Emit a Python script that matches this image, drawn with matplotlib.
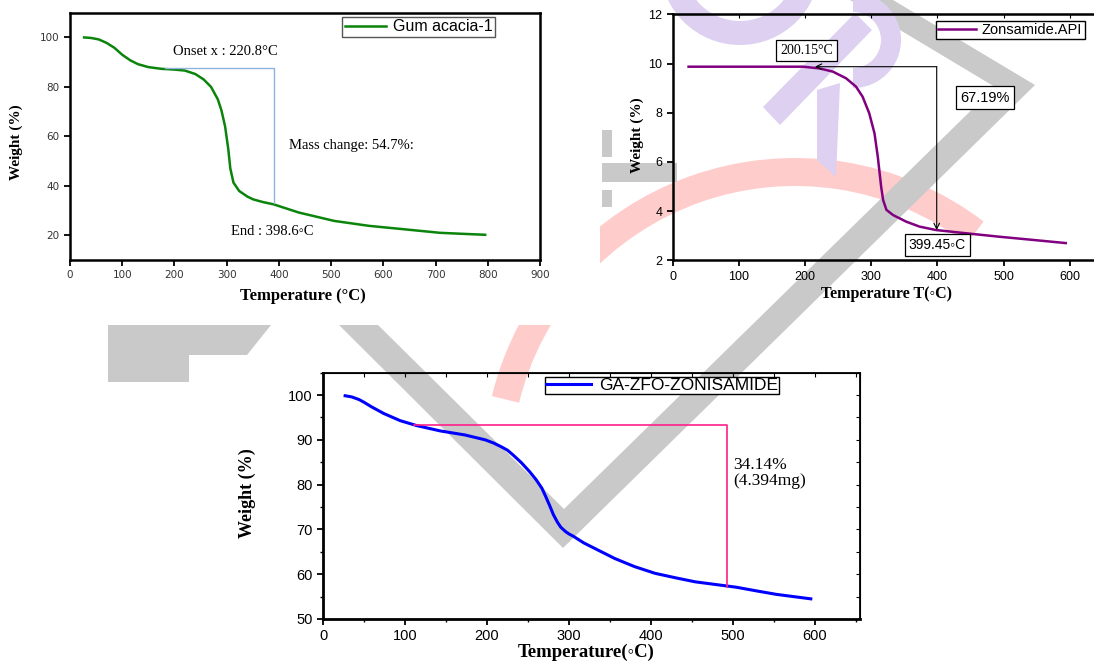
import matplotlib
matplotlib.use("Agg")
import matplotlib.pyplot as plt
from matplotlib.patches import Polygon, Wedge, Rectangle
from matplotlib.ticker import MultipleLocator

SERIF = ["Liberation Serif", "DejaVu Serif"]
SANS = ["Liberation Sans", "DejaVu Sans"]

# ---- Gum acacia-1 ----
ga_temp = [27, 40, 55, 70, 85, 100, 115, 130, 150, 175, 200, 220, 240, 256, 270, 283,
           290, 297, 303, 307, 313, 324, 340, 351, 370, 390, 438, 506, 573, 641, 708, 750, 795]
ga_wt = [100, 99.8, 99.2, 97.8, 95.8, 93, 90.8, 89.2, 88, 87.3, 87, 86.6, 85.2, 83, 80, 75,
         70.5, 64, 55, 47, 41.3, 37.9, 35.6, 34.5, 33.4, 32.5, 29.2, 25.8, 23.8, 22.4, 21, 20.6, 20.2]
ga_label = "Gum acacia-1"
ga_step_x = [182, 390, 390]
ga_step_y = [87.5, 87.5, 33.0]

# ---- Zonisamide API ----
api_temp = [24, 100, 197, 222, 242, 262, 277, 287, 297, 305, 310, 315, 318, 323, 333,
            353, 373, 398, 443, 493, 544, 594]
api_wt = [9.87, 9.87, 9.87, 9.8, 9.67, 9.4, 9.06, 8.65, 7.98, 7.16, 6.2, 5.0, 4.45, 4.05, 3.84,
          3.57, 3.37, 3.23, 3.1, 2.96, 2.83, 2.7]
api_label = "Zonsamide.API"
api_onset = (215, 9.87)
api_corner = (399, 9.87)
api_end = (399, 3.23)

# ---- GA-ZFO-Zonisamide ----
zfo_temp = [27, 35, 44, 50, 59, 74, 94, 114, 143, 173, 198, 208, 217, 225, 232, 242, 252, 260,
            267, 272, 277, 281, 286, 290, 296, 300, 306, 318, 331, 356, 380, 405, 430, 454,
            479, 504, 528, 553, 595]
zfo_wt = [99.85, 99.6, 99.0, 98.4, 97.4, 95.9, 94.3, 93.2, 92.0, 91.1, 90.0, 89.3, 88.5, 87.7,
          86.6, 84.9, 82.9, 81.1, 79.2, 77.2, 75.1, 73.3, 71.6, 70.5, 69.5, 69.0, 68.4, 67.0,
          65.8, 63.5, 61.7, 60.2, 59.2, 58.3, 57.7, 57.1, 56.3, 55.5, 54.5]
zfo_label = "GA-ZFO-ZONISAMIDE"
zfo_step_x = [111, 493, 493]
zfo_step_y = [93.3, 93.3, 57.2]

W, H = 1094, 661
fig = plt.figure(figsize=(W / 100, H / 100), dpi=100)

# background watermark (pixel coordinates, drawn behind everything)
wm = fig.add_axes([0, 0, 1, 1], zorder=-1)
wm.set_xlim(0, W)
wm.set_ylim(H, 0)
wm.axis("off")
gray = "#c9c9c9"
wm.add_patch(Wedge((795, 470), 312, 193.7, 307.2, width=28, color="#ffcccc", lw=0))
wm.add_patch(Polygon([(339, 325), (563, 548), (1035, 85), (893, 0), (850, 0), (995, 87),
                      (564, 509), (378, 325)], closed=True, color=gray, lw=0))
wm.add_patch(Polygon([(108, 325), (271, 325), (247, 355), (189, 355), (189, 382), (108, 382)],
                     closed=True, color=gray, lw=0))
wm.add_patch(Rectangle((602, 163), 75, 19, color=gray, lw=0))
wm.add_patch(Rectangle((602, 130), 10, 27, color=gray, lw=0))
wm.add_patch(Rectangle((602, 190), 10, 17, color=gray, lw=0))
lav = "#ddd0f0"
wm.add_patch(Wedge((740, -35), 80, 0, 180, width=24, color=lav, lw=0))
wm.add_patch(Polygon([(763, 107), (780, 125), (872, 30), (855, 13)], closed=True, color=lav, lw=0))
wm.add_patch(Polygon([(817, 90), (840, 83), (836, 177), (817, 160)], closed=True, color=lav, lw=0))
wm.add_patch(Wedge((853, 40), 48, -90, 90, width=20, color=lav, lw=0))
wm.add_patch(Rectangle((0, 0), 600, 325, color="white", lw=0))


def style_labels(ax, family, size, color="black"):
    for lab in ax.get_xticklabels() + ax.get_yticklabels():
        lab.set_fontfamily(family)
        lab.set_fontsize(size)
        lab.set_color(color)


# ---------------- panel 1 ----------------
ax1 = fig.add_axes([70 / W, 1 - 260 / H, 470 / W, 247.3 / H], facecolor="none")
ax1.plot(ga_temp, ga_wt, color="#0b840b", lw=1.8, label=ga_label)
ax1.plot(ga_step_x, ga_step_y, color="#8fb3e0", lw=1.0)
ax1.set_xlim(0, 900)
ax1.set_ylim(10, 110)
ax1.set_xticks(range(0, 901, 100))
ax1.set_yticks(range(20, 101, 20))
ax1.tick_params(direction="out", length=4, width=1.3)
style_labels(ax1, "DejaVu Sans", 7.5, "#333333")
for s in ax1.spines.values():
    s.set_linewidth(1.8)
ax1.text(197, 94.4, "Onset x : 220.8°C", family=SERIF, fontsize=10.5, va="center")
ax1.text(419, 56.4, "Mass change: 54.7%:", family=SERIF, fontsize=10.5, va="center")
ax1.text(308, 21.5, "End : 398.6◦C", family=SERIF, fontsize=10.5, va="center")
ax1.set_xlabel("Temperature (°C)", family=SERIF, fontweight="bold", fontsize=12)
ax1.set_ylabel("Weight (%)", family=SERIF, fontweight="bold", fontsize=11)
ax1.xaxis.set_label_coords(0.496, -0.115)
ax1.yaxis.set_label_coords(-0.1, 0.477)
leg = ax1.legend(loc="upper left", bbox_to_anchor=(0.579, 0.983), prop={"family": SANS, "size": 11.5},
                 fancybox=False, edgecolor="#555555", framealpha=1, borderpad=0.15,
                 handlelength=2.6, handletextpad=0.45, borderaxespad=0)
leg.get_frame().set_linewidth(1.0)

# ---------------- panel 2 ----------------
ax2 = fig.add_axes([672.7 / W, 1 - 260.3 / H, 436.7 / W, 246 / H], facecolor="none")
ax2.plot(api_temp, api_wt, color="#800080", lw=1.8, label=api_label)
ax2.annotate("", xy=api_onset, xytext=api_corner,
             arrowprops=dict(arrowstyle="->", color="black", lw=0.8, shrinkA=0, shrinkB=0))
ax2.annotate("", xy=api_end, xytext=api_corner,
             arrowprops=dict(arrowstyle="->", color="black", lw=0.8, shrinkA=0, shrinkB=0))
ax2.set_xlim(0, 660)
ax2.set_ylim(2, 12)
ax2.set_xticks(range(0, 601, 100))
ax2.set_yticks(range(2, 13, 2))
ax2.tick_params(direction="out", length=4, width=1.3)
style_labels(ax2, SANS, 9)
for s in ax2.spines.values():
    s.set_linewidth(1.8)
top2 = ax2.secondary_xaxis("top")
top2.set_xticks(range(0, 601, 100))
top2.tick_params(direction="in", length=3, labeltop=False)
box = dict(boxstyle="square,pad=0.3", fc="white", ec="black", lw=0.9)
ax2.text(202, 10.53, "200.15°C", family=SERIF, fontsize=10, ha="center", va="center", bbox=box)
ax2.text(472, 8.61, "67.19%", family=SANS, fontsize=10.5, ha="center", va="center", bbox=box)
ax2.text(400, 2.61, "399.45◦C", family=SANS, fontsize=10, ha="center", va="center", bbox=box)
ax2.set_xlabel("Temperature T(◦C)", family=SERIF, fontweight="bold", fontsize=11.5)
ax2.set_ylabel("Weight (%)", family=SERIF, fontweight="bold", fontsize=11)
ax2.xaxis.set_label_coords(0.49, -0.105)
ax2.yaxis.set_label_coords(-0.065, 0.509)
leg = ax2.legend(loc="upper left", bbox_to_anchor=(0.603, 0.974), prop={"family": SANS, "size": 10.5},
                 fancybox=False, edgecolor="black", framealpha=1, borderpad=0.15,
                 handlelength=2.6, handletextpad=0.4, borderaxespad=0)
leg.get_frame().set_linewidth(1.0)

# ---------------- panel 3 ----------------
ax3 = fig.add_axes([323 / W, 1 - 619 / H, 537 / W, 246.3 / H], facecolor="none")
ax3.plot(zfo_temp, zfo_wt, color="#0000ff", lw=2.2, label=zfo_label)
ax3.plot(zfo_step_x, zfo_step_y, color="#ff1f8a", lw=1.2)
ax3.set_xlim(0, 655)
ax3.set_ylim(50, 105)
ax3.set_xticks(range(0, 601, 100))
ax3.set_yticks(range(50, 101, 10))
ax3.xaxis.set_minor_locator(MultipleLocator(50))
ax3.yaxis.set_minor_locator(MultipleLocator(5))
ax3.tick_params(which="major", direction="out", length=4, width=1.3)
ax3.tick_params(which="minor", direction="out", length=2.5, width=1.0)
style_labels(ax3, SANS, 10.5)
for s in ax3.spines.values():
    s.set_linewidth(1.3)
ax3.spines["left"].set_linewidth(2)
ax3.spines["bottom"].set_linewidth(2)
top3 = ax3.secondary_xaxis("top")
top3.set_xticks(range(0, 651, 50))
top3.tick_params(direction="in", length=3, labeltop=False)
right3 = ax3.secondary_yaxis("right")
right3.set_yticks(range(50, 106, 5))
right3.tick_params(direction="in", length=3, labelright=False)
ax3.text(500, 82.6, "34.14%\n(4.394mg)", family=SERIF, fontsize=12.5, va="center", linespacing=1.05)
ax3.set_xlabel("Temperature(◦C)", family=SERIF, fontweight="bold", fontsize=13.5)
ax3.set_ylabel("Weight (%)", family=SERIF, fontweight="bold", fontsize=13)
ax3.xaxis.set_label_coords(0.49, -0.1)
ax3.yaxis.set_label_coords(-0.125, 0.51)
leg = ax3.legend(loc="upper left", bbox_to_anchor=(0.413, 0.9825), prop={"family": SANS, "size": 12.5},
                 fancybox=False, edgecolor="black", framealpha=1, borderpad=0.05,
                 handlelength=2.6, handletextpad=0.5, borderaxespad=0)
leg.get_frame().set_linewidth(1.0)

fig.savefig("out.png", dpi=100)
